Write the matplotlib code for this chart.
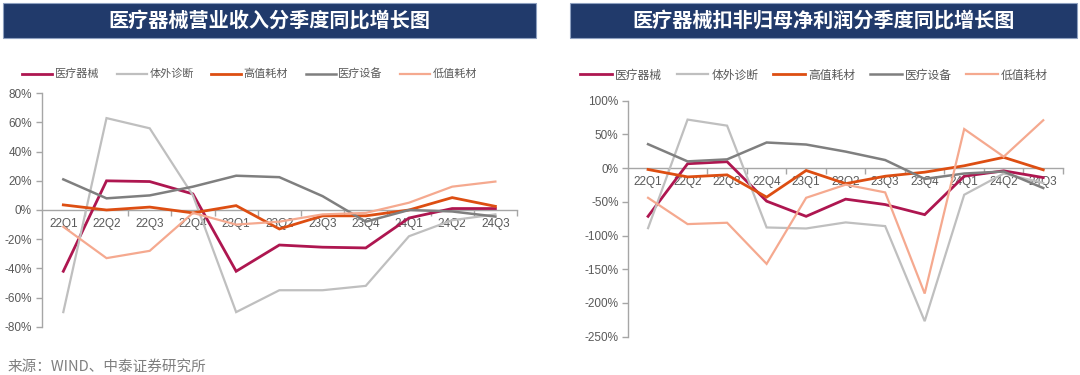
import matplotlib
matplotlib.use("Agg")
import matplotlib.pyplot as plt
from matplotlib.patches import Rectangle
from matplotlib.ticker import FuncFormatter, FixedLocator

plt.rcParams['font.family'] = ['Liberation Sans', 'Noto Sans CJK SC', 'DejaVu Sans']

quarters = ["22Q1", "22Q2", "22Q3", "22Q4", "23Q1", "23Q2", "23Q3", "23Q4", "24Q1", "24Q2", "24Q3"]
series_names = ["医疗器械", "体外诊断", "高值耗材", "医疗设备", "低值耗材"]

# 营业收入 同比 (%)
rev_med = [-42, 20, 19.5, 11, -42, -24, -25.5, -26, -5.5, 1, 1]
rev_ivd = [-70, 63, 56, 10, -70, -55, -55, -52, -18, -7, -3]
rev_high = [3.5, 0, 2, -2, 3, -13, -4, -4, 0, 8.5, 2.5]
rev_equip = [21, 8, 10, 16, 23.5, 22.5, 9.5, -8, 0, -1, -4.5]
rev_low = [-11.5, -33, -28, -2, -10, -8, -3, -2, 5, 16, 19.5]

# 扣非归母净利润 同比 (%)
np_med = [-71.5, 6.5, 9.5, -49, -71.5, -46, -54, -69, -12, -4, -14]
np_ivd = [-89, 72, 63, -88, -89.5, -80.5, -86, -227, -39.5, -8, -22]
np_high = [-2, -13, -10, -43, -3.5, -23, -12, -6, 3.5, 16, -2.5]
np_equip = [35.5, 10, 13, 38, 35, 24.5, 12, -16, -8, -5, -29.5]
np_low = [-44, -83, -81, -142, -44, -24.5, -36, -186, 58, 17, 71]

colors = ["#AE1650", "#BFBFBF", "#DD4E12", "#7F7F7F", "#F5A98F"]
widths = [2.0, 1.6, 2.0, 1.8, 1.6]

title_left = "医疗器械营业收入分季度同比增长图"
title_right = "医疗器械扣非归母净利润分季度同比增长图"
source = "来源：WIND、中泰证券研究所"

W, H = 1080, 375
fig = plt.figure(figsize=(W / 100, H / 100), dpi=100)
fig.patch.set_facecolor("white")

def fx(px):
    return px / W

def fy(py):
    return 1 - py / H

AXC = "#A6A6A6"
TXC = "#595959"
CJK = ['Noto Sans CJK SC', 'DejaVu Sans']

def make_axes(rect, data, ylim, ystep):
    ax = fig.add_axes(rect)
    x = list(range(len(quarters)))
    lines = []
    for vals, c, lw, name in zip(data, colors, widths, series_names):
        ln, = ax.plot(x, vals, color=c, lw=lw, label=name, solid_joinstyle="miter")
        lines.append(ln)
    ax.set_xlim(-0.5, len(quarters) - 0.5)
    ax.set_ylim(*ylim)
    for s in ["top", "right"]:
        ax.spines[s].set_visible(False)
    ax.spines["left"].set_color(AXC)
    ax.spines["left"].set_linewidth(1.0)
    ax.spines["bottom"].set_position(("data", 0))
    ax.spines["bottom"].set_color(AXC)
    ax.spines["bottom"].set_linewidth(1.0)
    ax.spines["bottom"].set_zorder(1)
    ax.set_xticks(x)
    ax.set_xticklabels(quarters)
    ax.xaxis.set_minor_locator(FixedLocator([i + 0.5 for i in range(len(quarters))]))
    ax.tick_params(axis="x", which="major", length=0, pad=6, labelsize=8.5, labelcolor=TXC)
    ax.tick_params(axis="x", which="minor", length=4, width=1.0, color=AXC, direction="out")
    yt = list(range(ylim[0], ylim[1] + 1, ystep))
    ax.set_yticks(yt)
    ax.yaxis.set_major_formatter(FuncFormatter(lambda v, p: f"{int(v)}%"))
    ax.tick_params(axis="y", length=4, width=1.0, color=AXC, labelsize=8.5, labelcolor=TXC, pad=3)
    ax.set_facecolor("none")
    return ax, lines

# left chart
axL, linesL = make_axes([fx(41.7), fy(326.7), fx(517 - 41.7), (326.7 - 93.3) / H],
                        [rev_med, rev_ivd, rev_high, rev_equip, rev_low], (-80, 80), 20)
# right chart
axR, linesR = make_axes([fx(628.3), fy(336.7), fx(1063 - 628.3), (336.7 - 100.7) / H],
                        [np_med, np_ivd, np_high, np_equip, np_low], (-250, 100), 50)

# legends
fig.legend(handles=linesL, labels=series_names, loc="center left",
           bbox_to_anchor=(fx(22), fy(74)), ncol=5, frameon=False,
           prop={"family": CJK, "size": 8}, labelcolor=TXC,
           handlelength=2.7, handletextpad=0.25, columnspacing=1.55,
           borderpad=0, borderaxespad=0)
fig.legend(handles=linesR, labels=series_names, loc="center left",
           bbox_to_anchor=(fx(580), fy(75)), ncol=5, frameon=False,
           prop={"family": CJK, "size": 8.5}, labelcolor=TXC,
           handlelength=2.7, handletextpad=0.25, columnspacing=1.25,
           borderpad=0, borderaxespad=0)

# title bars
NAVY = "#213A6B"
for x0, x1, t in [(3, 536, title_left), (570, 1077, title_right)]:
    fig.add_artist(Rectangle((fx(x0), fy(38)), fx(x1 - x0), 35 / H,
                             transform=fig.transFigure, facecolor=NAVY,
                             edgecolor="#8EA0C0", lw=0.8))
    fig.text(fx((x0 + x1) / 2), fy(20.5), t, ha="center", va="center",
             color="white", fontsize=14.5, fontweight="bold", family=CJK)

fig.text(fx(8), fy(367), source, ha="left", va="center", color="#7F7F7F",
         fontsize=10.5, family=CJK)

fig.savefig("out.png", dpi=100, facecolor="white")
